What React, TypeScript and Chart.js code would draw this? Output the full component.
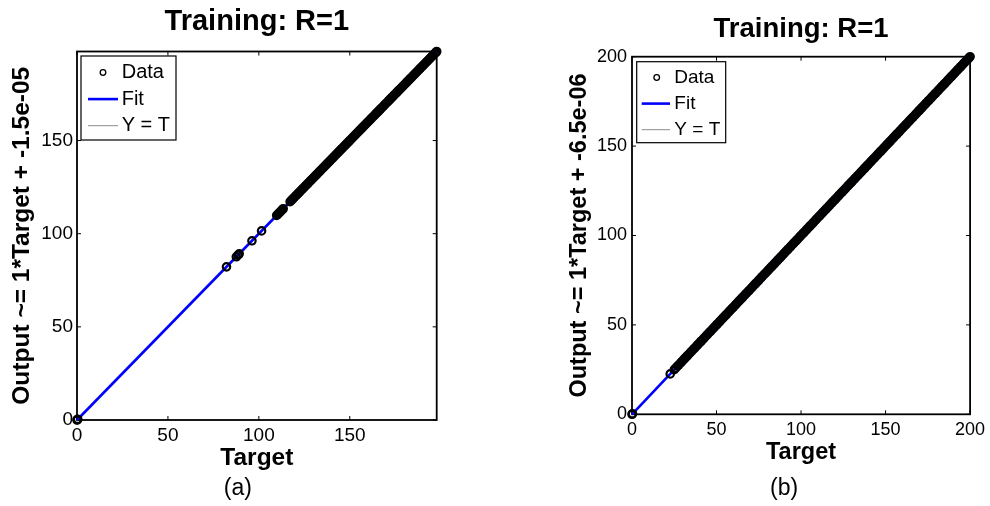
import React, { useEffect, useRef } from 'react';
import { Chart, registerables } from 'chart.js';

Chart.register(...registerables);

const FONT = '"Liberation Sans", Arial, Helvetica, sans-serif';

// ---------- shared text ----------
const chartTitle = 'Training: R=1';
const xLabel = 'Target';
const legendLabels = ['Data', 'Fit', 'Y = T'];
const tickValues = [0, 50, 100, 150, 200];

// ---------- panel (a) ----------
const yLabelA = 'Output ~= 1*Target + -1.5e-05';
const captionA = '(a)';
const axisMaxA = 197.8;
const targetsA = [
  0, 0.2, 0.4, 82.2, 87.6, 88.5, 89.2, 96.2, 101.5, 109.8, 110.4, 111.0, 111.6, 112.3, 112.9, 113.4,
  117.2, 118.0, 118.7, 119.5, 120.4, 121.1, 121.9, 122.6, 123.5, 124.2, 125.0, 125.9, 126.6, 127.3, 128.2,
  128.9, 129.7, 130.5, 131.3, 132.0, 132.9, 133.6, 134.4, 135.3, 136.0, 136.8, 137.6, 138.4, 139.1, 140.0,
  140.7, 141.5, 142.4, 143.1, 143.9, 144.7, 145.5, 146.2, 147.1, 147.8, 148.6, 149.5, 150.2, 151.0, 151.8,
  152.6, 153.3, 154.2, 154.9, 155.7, 156.6, 157.3, 158.1, 158.9, 159.7, 160.4, 161.3, 162.0, 162.8, 163.7,
  164.4, 165.2, 166.0, 166.8, 167.5, 168.4, 169.1, 169.9, 170.8, 171.5, 172.3, 173.1, 173.9, 174.6, 175.5,
  176.2, 177.0, 177.9, 178.6, 179.4, 180.2, 181.0, 181.7, 182.6, 183.3, 184.1, 185.0, 185.7, 186.5, 187.3,
  188.1, 188.8, 189.7, 190.4, 191.2, 192.1, 192.8, 193.6, 194.4, 195.2, 195.9, 196.8, 197.4, 197.8,
];
// R = 1: the outputs coincide with the targets
const outputsA = targetsA;
const fitXA = [0, 197.8];
const fitYA = [0, 197.8];

// ---------- panel (b) ----------
const yLabelB = 'Output ~= 1*Target + -6.5e-06';
const captionB = '(b)';
const axisMaxB = 200;
const targetsB = [
  0, 0.3, 22.6,
  25.0, 25.8, 26.9, 27.7, 28.8, 29.6, 30.7, 31.5, 32.6, 33.4, 34.5, 35.3, 36.4, 37.2, 38.3, 39.1, 40.2,
  41.0, 42.1, 42.9, 44.0, 44.8, 45.9, 46.7, 47.8, 48.6, 49.7, 50.5, 51.6, 52.4, 53.5, 54.3, 55.4, 56.2,
  57.3, 58.1, 59.2, 60.0, 61.1, 61.9, 63.0, 63.8, 64.9, 65.7, 66.8, 67.6, 68.7, 69.5, 70.6, 71.4, 72.5,
  73.3, 74.4, 75.2, 76.3, 77.1, 78.2, 79.0, 80.1, 80.9, 82.0, 82.8, 83.9, 84.7, 85.8, 86.6, 87.7, 88.5,
  89.6, 90.4, 91.5, 92.3, 93.4, 94.2, 95.3, 96.1, 97.2, 98.0, 99.1, 99.9, 101.0, 101.8, 102.9, 103.7,
  104.8, 105.6, 106.7, 107.5, 108.6, 109.4, 110.5, 111.3, 112.4, 113.2, 114.3, 115.1, 116.2, 117.0, 118.1,
  118.9, 120.0, 120.8, 121.9, 122.7, 123.8, 124.6, 125.7, 126.5, 127.6, 128.4, 129.5, 130.3, 131.4, 132.2,
  133.3, 134.1, 135.2, 136.0, 137.1, 137.9, 139.0, 139.8, 140.9, 141.7, 142.8, 143.6, 144.7, 145.5, 146.6,
  147.4, 148.5, 149.3, 150.4, 151.2, 152.3, 153.1, 154.2, 155.0, 156.1, 156.9, 158.0, 158.8, 159.9, 160.7,
  161.8, 162.6, 163.7, 164.5, 165.6, 166.4, 167.5, 168.3, 169.4, 170.2, 171.3, 172.1, 173.2, 174.0, 175.1,
  175.9, 177.0, 177.8, 178.9, 179.7, 180.8, 181.6, 182.7, 183.5, 184.6, 185.4, 186.5, 187.3, 188.4, 189.2,
  190.3, 191.1, 192.2, 193.0, 194.1, 194.9, 196.0, 196.8, 197.9, 198.7, 199.4, 200.0,
];
const outputsB = targetsB;
const fitXB = [0, 200];
const fitYB = [0, 200];

// ---------- layout specs (positions / sizes / styles only) ----------
const layoutA = {
  left: 0, width: 495, height: 506,
  pad: { left: 0, right: 58.3, top: 0, bottom: 0 },
  titleFont: 29, titlePad: { top: 5, bottom: 11.7 },
  yWidth: 77, xHeight: 86,
  tickFont: 19, xTickPad: 4.6, yTickPad: 4,
  axisTitleFont: 24.5, xTitlePadBottom: 33.1, yTitlePadTop: 7.8,
  legend: { dx: 4, dy: 4.5, w: 95, h: 84, row0: 16.5, rowGap: 26.6, line0: 7, line1: 37, cx: 22, tx: 40.7, font: 20 },
  caption: { fx: 0.447, y: 489, font: 23 },
};
const layoutB = {
  left: 495, width: 495, height: 506,
  pad: { left: 60, right: 16, top: 0, bottom: 0 },
  titleFont: 27.5, titlePad: { top: 12.5, bottom: 11.2 },
  yWidth: 77, xHeight: 91.7,
  tickFont: 18, xTickPad: 4.9, yTickPad: 5,
  axisTitleFont: 23.5, xTitlePadBottom: 39.2, yTitlePadTop: 10.4,
  legend: { dx: 4.7, dy: 5, w: 89, h: 81, row0: 15.8, rowGap: 26.1, line0: 5, line1: 33.3, cx: 20, tx: 37.6, font: 19 },
  caption: { fx: 0.45, y: 489, font: 23 },
};

const framePlugin = {
  id: 'matlabFrame',
  beforeDatasetsDraw(chart: any, _args: any, opts: any) {
    const { ctx, chartArea: a, scales } = chart;
    ctx.save();
    ctx.strokeStyle = '#000';
    ctx.lineWidth = 1.8;
    ctx.strokeRect(a.left, a.top, a.right - a.left, a.bottom - a.top);
    ctx.lineWidth = 1;
    const L = opts.tickLen;
    ctx.beginPath();
    for (const t of scales.x.ticks) {
      const px = scales.x.getPixelForValue(t.value);
      ctx.moveTo(px, a.bottom); ctx.lineTo(px, a.bottom - L);
      ctx.moveTo(px, a.top); ctx.lineTo(px, a.top + L);
    }
    for (const t of scales.y.ticks) {
      const py = scales.y.getPixelForValue(t.value);
      ctx.moveTo(a.left, py); ctx.lineTo(a.left + L, py);
      ctx.moveTo(a.right, py); ctx.lineTo(a.right - L, py);
    }
    ctx.stroke();
    ctx.restore();
  },
  afterDraw(chart: any, _args: any, opts: any) {
    const { ctx, chartArea: a } = chart;
    const lg = opts.legend;
    ctx.save();
    const bx = a.left + lg.dx;
    const by = a.top + lg.dy;
    ctx.fillStyle = '#fff';
    ctx.fillRect(bx, by, lg.w, lg.h);
    ctx.strokeStyle = '#000';
    ctx.lineWidth = 1.2;
    ctx.strokeRect(bx, by, lg.w, lg.h);
    ctx.font = `${lg.font}px ${FONT}`;
    ctx.textBaseline = 'middle';
    ctx.textAlign = 'left';
    chart.data.datasets.forEach((ds: any, i: number) => {
      const y = by + lg.row0 + i * lg.rowGap;
      if (ds.showLine === false) {
        ctx.beginPath();
        ctx.arc(bx + lg.cx, y, 2.8, 0, Math.PI * 2);
        ctx.strokeStyle = ds.borderColor;
        ctx.lineWidth = 1.3;
        ctx.stroke();
      } else {
        ctx.beginPath();
        ctx.moveTo(bx + lg.line0, y);
        ctx.lineTo(bx + lg.line1, y);
        ctx.strokeStyle = ds.borderColor;
        ctx.lineWidth = ds.borderWidth;
        ctx.stroke();
      }
      ctx.fillStyle = '#000';
      ctx.fillText(ds.label, bx + lg.tx, y);
    });
    const cp = opts.caption;
    ctx.font = `${cp.font}px ${FONT}`;
    ctx.textAlign = 'center';
    ctx.fillStyle = '#000';
    ctx.fillText(cp.text, a.left + (a.right - a.left) * cp.fx, cp.y);
    ctx.restore();
  },
};

type PanelProps = {
  targets: number[]; outputs: number[]; fitX: number[]; fitY: number[];
  axisMax: number; yLabel: string; caption: string; lay: any;
};

function Panel({ targets, outputs, fitX, fitY, axisMax, yLabel, caption, lay }: PanelProps) {
  const ref = useRef<HTMLCanvasElement | null>(null);
  useEffect(() => {
    if (!ref.current) return;
    const pts = targets.map((t, i) => ({ x: t, y: outputs[i] }));
    const fit = fitX.map((x, i) => ({ x, y: fitY[i] }));
    const fixTicks = (s: any) => {
      s.ticks = tickValues.filter((v) => v <= axisMax + 1e-9).map((v) => ({ value: v }));
    };
    const chart = new Chart(ref.current, {
      type: 'scatter',
      data: {
        datasets: [
          {
            label: legendLabels[0], data: pts, showLine: false,
            pointStyle: 'circle', pointRadius: 3.7, pointBorderWidth: 2.2,
            borderColor: '#000', pointBorderColor: '#000', backgroundColor: 'rgba(0,0,0,0)',
            pointBackgroundColor: 'rgba(0,0,0,0)', clip: false,
          } as any,
          {
            label: legendLabels[1], data: fit, showLine: true, pointRadius: 0,
            borderColor: '#0000ff', borderWidth: 2.6, clip: false,
          } as any,
          {
            label: legendLabels[2], data: fit, showLine: true, pointRadius: 0,
            borderColor: '#8c8c8c', borderWidth: 1, clip: false,
          } as any,
        ],
      },
      options: {
        responsive: false,
        animation: false,
        devicePixelRatio: 1,
        events: [],
        layout: { padding: lay.pad },
        scales: {
          x: {
            type: 'linear', position: 'bottom', min: 0, max: axisMax,
            grid: { display: false, drawTicks: false },
            border: { display: false },
            afterBuildTicks: fixTicks,
            ticks: {
              maxRotation: 0, autoSkip: false,
              padding: lay.xTickPad, color: '#000',
              font: { family: FONT, size: lay.tickFont },
            },
            title: {
              display: true, text: xLabel, color: '#000',
              font: { family: FONT, size: lay.axisTitleFont, weight: 'bold' },
              padding: { top: 0, bottom: lay.xTitlePadBottom },
            },
            afterFit: (s: any) => { s.height = lay.xHeight; },
          },
          y: {
            type: 'linear', position: 'left', min: 0, max: axisMax,
            grid: { display: false, drawTicks: false },
            border: { display: false },
            afterBuildTicks: fixTicks,
            ticks: {
              autoSkip: false,
              padding: lay.yTickPad, color: '#000',
              font: { family: FONT, size: lay.tickFont },
            },
            title: {
              display: true, text: yLabel, color: '#000',
              font: { family: FONT, size: lay.axisTitleFont, weight: 'bold' },
              padding: { top: lay.yTitlePadTop, bottom: 0 },
            },
            afterFit: (s: any) => { s.width = lay.yWidth; },
          },
        },
        plugins: {
          legend: { display: false },
          tooltip: { enabled: false },
          title: {
            display: true, text: chartTitle, color: '#000', fullSize: false,
            font: { family: FONT, size: lay.titleFont, weight: 'bold' },
            padding: lay.titlePad,
          },
          matlabFrame: { tickLen: 4, legend: lay.legend, caption: { ...lay.caption, text: caption } },
        } as any,
      },
      plugins: [framePlugin],
    } as any);
    return () => chart.destroy();
  }, []);
  return (
    <canvas
      ref={ref}
      width={lay.width}
      height={lay.height}
      style={{ position: 'absolute', left: lay.left, top: 0, width: lay.width, height: lay.height }}
    />
  );
}

export default function App() {
  return (
    <div style={{ position: 'absolute', left: 0, top: 0, width: 990, height: 506, background: '#fff' }}>
      <Panel targets={targetsA} outputs={outputsA} fitX={fitXA} fitY={fitYA} axisMax={axisMaxA}
        yLabel={yLabelA} caption={captionA} lay={layoutA} />
      <Panel targets={targetsB} outputs={outputsB} fitX={fitXB} fitY={fitYB} axisMax={axisMaxB}
        yLabel={yLabelB} caption={captionB} lay={layoutB} />
    </div>
  );
}
